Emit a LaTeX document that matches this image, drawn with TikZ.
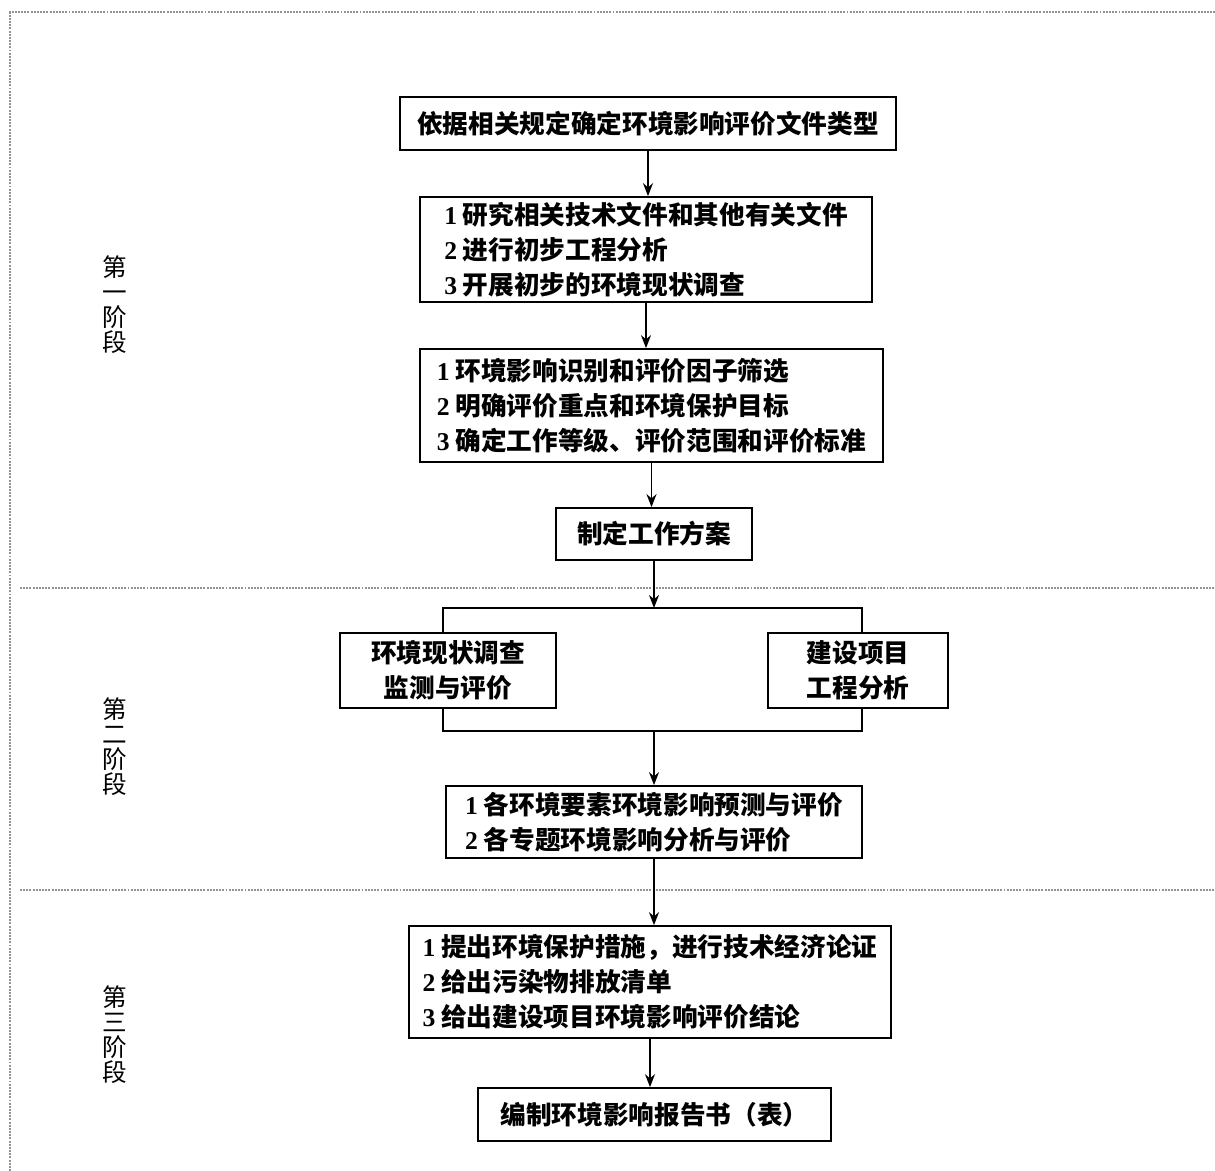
\documentclass[tikz,border=0pt]{standalone}
\usepackage{fontspec}
\setmainfont{Liberation Serif}
\newfontfamily\cjk{Noto Sans CJK SC}
\usetikzlibrary{arrows.meta}
\newcommand{\nm}[1]{{\rmfamily\bfseries #1}\ }

\begin{document}
\begin{tikzpicture}[x=0.02cm,y=-0.02cm,
    frame/.style={gray!85,line width=1.3pt,dash pattern=on 1.1pt off 0.7pt},
    box/.style={draw,line width=1pt,fill=white,inner sep=0pt,align=left,
      font=\cjk\bfseries\fontsize{14.6pt}{19.8pt}\selectfont},
    phase/.style={align=center,font=\cjk\fontsize{14pt}{14.2pt}\selectfont},
    flow/.style={line width=1pt,-{Stealth[length=2.6mm,width=2mm]}}]
  \useasboundingbox (0,0) rectangle (1215,1171);

  \draw[frame] (10,1171) -- (10,12) -- (1215,12);
  \draw[frame] (20,588) -- (1215,588);
  \draw[frame] (20,890) -- (1215,890);

  \node[phase] (ph1) at (115,305) {第\\一\\阶\\段};
  \node[phase] (ph2) at (115,747) {第\\二\\阶\\段};
  \node[phase] (ph3) at (115,1035) {第\\三\\阶\\段};

  \coordinate (brtl) at (443,608);
  \coordinate (brbr) at (862,731);
  \draw[line width=1pt] (brtl) rectangle (brbr);

  \node[box,minimum width=9.92cm,minimum height=1.06cm] (type) at (648,123.5)
    {依据相关规定确定环境影响评价文件类型};
  \node[box,minimum width=9.04cm,minimum height=2.1cm] (study) at (646,249.5)
    {\nm{1}研究相关技术文件和其他有关文件\\\nm{2}进行初步工程分析\\\nm{3}开展初步的环境现状调查};
  \node[box,minimum width=9.26cm,minimum height=2.26cm] (scope) at (651.5,405.5)
    {\nm{1}环境影响识别和评价因子筛选\\\nm{2}明确评价重点和环境保护目标\\\nm{3}确定工作等级、评价范围和评价标准};
  \node[box,minimum width=3.92cm,minimum height=1.04cm] (plan) at (654,534)
    {制定工作方案};
  \node[box,align=center,minimum width=4.32cm,minimum height=1.5cm] (survey) at (448,670.5)
    {环境现状调查\\监测与评价};
  \node[box,align=center,minimum width=3.6cm,minimum height=1.5cm] (project) at (858,670.5)
    {建设项目\\工程分析};
  \node[box,minimum width=8.32cm,minimum height=1.44cm] (predict) at (654,822)
    {\nm{1}各环境要素环境影响预测与评价\\\nm{2}各专题环境影响分析与评价};
  \node[box,minimum width=9.64cm,minimum height=2.24cm] (measure) at (650,982)
    {\nm{1}提出环境保护措施，进行技术经济论证\\\nm{2}给出污染物排放清单\\\nm{3}给出建设项目环境影响评价结论};
  \node[box,minimum width=7.06cm,minimum height=1.06cm] (report) at (654.5,1114.5)
    {编制环境影响报告书（表）};

  \draw[flow] (type.south) -- (type.south |- study.north);
  \draw[flow] (study.south) -- (study.south |- scope.north);
  \draw[flow] (scope.south) -- (scope.south |- plan.north);
  \draw[flow] (plan.south) -- (plan.south |- brtl);
  \draw[flow] (predict.north |- brbr) -- (predict.north);
  \draw[flow] (predict.south) -- (predict.south |- measure.north);
  \draw[flow] (measure.south) -- (measure.south |- report.north);
\end{tikzpicture}
\end{document}
